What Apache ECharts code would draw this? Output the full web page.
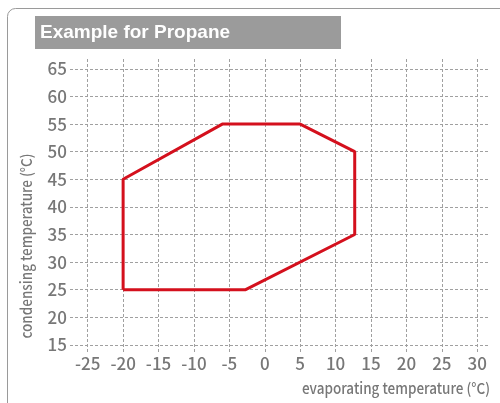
<!DOCTYPE html>
<html>
<head>
<meta charset="utf-8">
<script src="https://cdn.jsdelivr.net/npm/echarts@6/dist/echarts.min.js"></script>
<style>
  html, body { margin: 0; padding: 0; background: #fff; }
  #chart { width: 500px; height: 403px; }
</style>
</head>
<body>
<div id="chart"></div>
<script>
// Operating envelope for propane: evaporating vs. condensing temperature (°C)
const evapTemp = [-20, -20, -6, 5, 12.7, 12.7, -2.7, -20];
const condTemp = [25, 45, 55, 55, 50, 35, 25, 25];

// Tick values shown on each axis
const xTicks = [-25, -20, -15, -10, -5, 0, 5, 10, 15, 20, 25, 30];
const yTicks = [15, 20, 25, 30, 35, 40, 45, 50, 55, 60, 65];

const titleText = 'Example for Propane';
const xName = 'evaporating temperature (°C)';
const yName = 'condensing temperature (°C)';

const labelFont = '"Noto Sans CJK KR", "Noto Sans", sans-serif';
const textGray = '#777777';
const gridLine = { show: true, lineStyle: { color: '#a0a0a0', type: [3, 2], width: 1 } };

const chart = echarts.init(document.getElementById('chart'), null, { renderer: 'canvas' });

chart.setOption({
  animation: false,
  backgroundColor: '#fff',
  graphic: [
    {
      type: 'rect',
      shape: { x: 7.5, y: 8.5, width: 540, height: 440, r: 8 },
      style: { fill: 'none', stroke: '#9a9a9a', lineWidth: 1 },
      z: 0
    },
    {
      type: 'rect',
      shape: { x: 35, y: 16, width: 306, height: 33 },
      style: { fill: '#9b9b9b' },
      z: 1
    },
    {
      type: 'text',
      x: 40, y: 33,
      style: {
        text: titleText, fill: '#fff', font: 'bold 19px "Liberation Sans", Arial, sans-serif',
        verticalAlign: 'middle', align: 'left'
      },
      z: 2
    },
    {
      type: 'text',
      x: 490, y: 388,
      scaleX: 0.9,
      style: {
        text: xName, fill: textGray, font: '500 15px ' + labelFont,
        verticalAlign: 'middle', align: 'right'
      },
      z: 2
    },
    {
      type: 'text',
      x: 26, y: 246,
      rotation: Math.PI / 2,
      scaleX: 0.9,
      style: {
        text: yName, fill: textGray, font: '500 15px ' + labelFont,
        verticalAlign: 'middle', align: 'center'
      },
      z: 2
    }
  ],
  grid: { left: 70, right: 10, top: 59, bottom: 51, containLabel: false },
  xAxis: {
    type: 'value',
    min: -27.5,
    max: 31.8,
    axisLine: { show: false },
    axisTick: { show: false, customValues: xTicks },
    axisLabel: {
      customValues: xTicks,
      color: textGray, fontFamily: labelFont, fontWeight: 500, fontSize: 17, margin: 3
    },
    splitLine: gridLine
  },
  yAxis: {
    type: 'value',
    min: 13.7,
    max: 66.8,
    axisLine: { show: false },
    axisTick: { show: false, customValues: yTicks },
    axisLabel: {
      customValues: yTicks,
      color: textGray, fontFamily: labelFont, fontWeight: 500, fontSize: 17, margin: 3
    },
    splitLine: gridLine
  },
  series: [
    {
      type: 'line',
      data: evapTemp.map((x, i) => [x, condTemp[i]]),
      symbol: 'none',
      lineStyle: { color: '#d4101d', width: 3 },
      z: 5
    }
  ]
});
</script>
</body>
</html>
